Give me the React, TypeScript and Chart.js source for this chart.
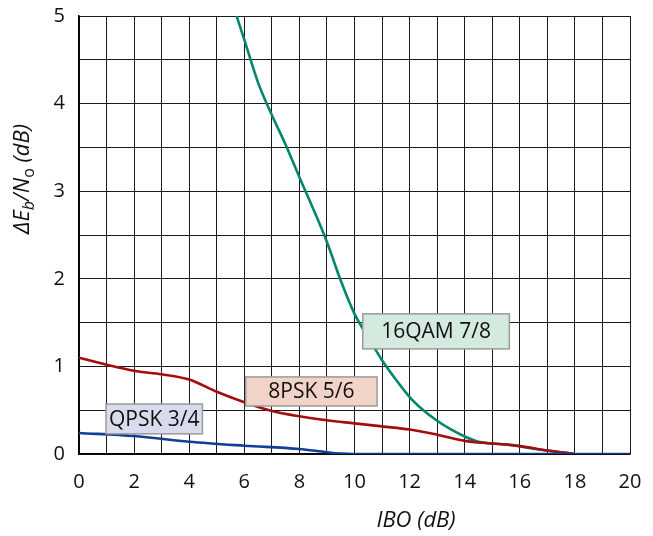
import React, { useEffect, useRef } from "react";
import { Chart, registerables } from "chart.js";

Chart.register(...registerables);

// ---- data ----
const xTickLabels = [0, 2, 4, 6, 8, 10, 12, 14, 16, 18, 20];
const yTickLabels = [0, 1, 2, 3, 4, 5];

const qpskX = [0, 2, 4, 6, 8, 9, 9.5, 10, 12, 14, 16, 18, 20];
const qpskY = [0.24, 0.205, 0.14, 0.095, 0.057, 0.02, 0.005, 0, 0, 0, 0, 0, 0];

const psk8X = [0, 1, 2, 3, 4, 5, 6, 7, 8, 9, 10, 11, 12, 13, 14, 15, 16, 17, 18];
const psk8Y = [1.1, 1.02, 0.95, 0.91, 0.85, 0.71, 0.59, 0.49, 0.43, 0.385, 0.35, 0.315, 0.28, 0.22, 0.15, 0.12, 0.09, 0.04, 0];

const qam16X = [5.72, 6, 6.5, 7, 7.5, 8, 8.5, 9, 9.5, 10, 10.5, 11, 11.5, 12, 12.5, 13, 13.5, 14, 14.5, 15, 15.5, 16, 16.5, 17, 17.5, 18];
const qam16Y = [5.0, 4.73, 4.24, 3.87, 3.53, 3.16, 2.8, 2.42, 1.98, 1.6, 1.33, 1.07, 0.85, 0.65, 0.5, 0.38, 0.28, 0.2, 0.14, 0.12, 0.11, 0.09, 0.06, 0.04, 0.02, 0.0];

const seriesNames = ["QPSK 3/4", "8PSK 5/6", "16QAM 7/8"];
const seriesColors = ["#0f3f96", "#a30d0d", "#00876c"];
const boxFills = ["#d9dcec", "#f1d4c7", "#d4eadf"];
// label boxes in data units: [x0, x1, yTop, yBottom]
const boxX0 = [0.98, 6.05, 10.3];
const boxX1 = [4.48, 10.82, 15.62];
const boxYTop = [0.57, 0.88, 1.6];
const boxYBot = [0.23, 0.548, 1.2];

const FONT = "'Open Sans', 'Noto Sans', sans-serif";

const pts = (xs: number[], ys: number[]) => xs.map((x, i) => ({ x, y: ys[i] }));

const overlayPlugin = {
  id: "overlay",
  afterDatasetsDraw(chart: any) {
    const { ctx, scales } = chart;
    const xs = scales.x;
    const ys = scales.y;
    ctx.save();
    for (let i = 0; i < seriesNames.length; i++) {
      const l = xs.getPixelForValue(boxX0[i]);
      const r = xs.getPixelForValue(boxX1[i]);
      const t = ys.getPixelForValue(boxYTop[i]);
      const b = ys.getPixelForValue(boxYBot[i]);
      ctx.fillStyle = boxFills[i];
      ctx.fillRect(l, t, r - l, b - t);
      ctx.strokeStyle = "#9a9a9a";
      ctx.lineWidth = 1.5;
      ctx.strokeRect(l, t, r - l, b - t);
      ctx.fillStyle = "#111";
      ctx.font = `21px ${FONT}`;
      ctx.textAlign = "center";
      ctx.textBaseline = "middle";
      ctx.fillText(seriesNames[i], (l + r) / 2, (t + b) / 2 + 1);
    }
    ctx.restore();
  },
  afterDraw(chart: any) {
    const { ctx } = chart;
    ctx.save();
    ctx.fillStyle = "#111";
    ctx.font = `italic 22px ${FONT}`;
    ctx.textAlign = "center";
    ctx.textBaseline = "middle";
    ctx.fillText("IBO (dB)", 416, 521);

    const parts = [
      { t: "Δ", f: `italic 22px ${FONT}`, dy: 0 },
      { t: "E", f: `italic 22px ${FONT}`, dy: 0 },
      { t: "b", f: `italic 16px ${FONT}`, dy: 6 },
      { t: "/N", f: `italic 22px ${FONT}`, dy: 0 },
      { t: "o", f: `16px ${FONT}`, dy: 6 },
      { t: " (dB)", f: `italic 22px ${FONT}`, dy: 0 },
    ];
    let total = 0;
    for (const p of parts) {
      ctx.font = p.f;
      total += ctx.measureText(p.t).width;
    }
    ctx.translate(23, 179);
    ctx.rotate(-Math.PI / 2);
    ctx.textAlign = "left";
    ctx.textBaseline = "middle";
    let x = -total / 2;
    for (const p of parts) {
      ctx.font = p.f;
      ctx.fillText(p.t, x, p.dy);
      x += ctx.measureText(p.t).width;
    }
    ctx.restore();
  },
};

export default function App() {
  const ref = useRef<HTMLCanvasElement | null>(null);
  useEffect(() => {
    document.body.style.margin = "0";
    const canvas = ref.current;
    if (!canvas) return;
    const mk = (i: number, xs: number[], ysv: number[]) => ({
      label: seriesNames[i],
      data: pts(xs, ysv),
      borderColor: seriesColors[i],
      backgroundColor: seriesColors[i],
      borderWidth: 2.6,
      pointRadius: 0,
      cubicInterpolationMode: "monotone" as const,
      fill: false,
    });
    const zeroPad = (s: any) => {
      s.paddingTop = 0;
      s.paddingBottom = 0;
      s.paddingLeft = 0;
      s.paddingRight = 0;
    };
    const chart = new Chart(canvas, {
      type: "line",
      data: {
        datasets: [mk(0, qpskX, qpskY), mk(1, psk8X, psk8Y), mk(2, qam16X, qam16Y)],
      },
      plugins: [overlayPlugin],
      options: {
        animation: false,
        responsive: true,
        maintainAspectRatio: false,
        layout: { padding: { top: 16, right: 23, left: 0, bottom: 0 } },
        plugins: { legend: { display: false }, tooltip: { enabled: false } },
        scales: {
          x: {
            type: "linear",
            min: 0,
            max: 20,
            afterFit: (s: any) => {
              s.height = 82;
              zeroPad(s);
            },
            afterBuildTicks: (s: any) => {
              const t = [];
              for (let v = 0; v <= 20; v++) t.push({ value: v });
              s.ticks = t;
            },
            grid: { color: "#1a1a1a", lineWidth: 1, drawTicks: false },
            border: { color: "#000", width: 1.5 },
            ticks: {
              padding: 16,
              color: "#111",
              font: { family: FONT, size: 20 },
              maxRotation: 0,
              autoSkip: false,
              callback: (v: any) => (xTickLabels.includes(Number(v)) ? String(v) : ""),
            },
          },
          y: {
            type: "linear",
            min: 0,
            max: 5,
            afterFit: (s: any) => {
              s.width = 79;
              zeroPad(s);
            },
            afterBuildTicks: (s: any) => {
              const t = [];
              for (let v = 0; v <= 10; v++) t.push({ value: v / 2 });
              s.ticks = t;
            },
            grid: { color: "#1a1a1a", lineWidth: 1, drawTicks: false },
            border: { color: "#000", width: 1.5 },
            ticks: {
              padding: 14,
              color: "#111",
              font: { family: FONT, size: 20 },
              autoSkip: false,
              callback: (v: any) => (yTickLabels.includes(Number(v)) ? String(v) : ""),
            },
          },
        },
      },
    });
    return () => chart.destroy();
  }, []);
  return (
    <div style={{ width: 653, height: 536, position: "relative" }}>
      <canvas ref={ref} />
    </div>
  );
}
